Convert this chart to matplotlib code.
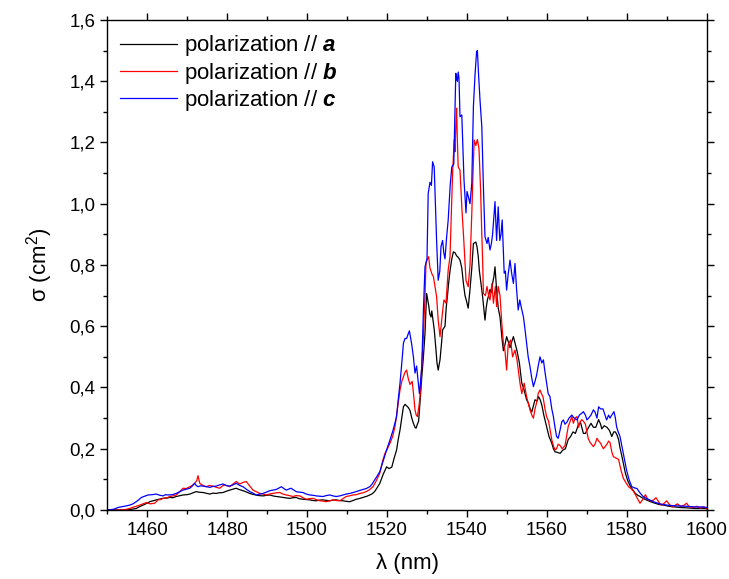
import matplotlib
matplotlib.use('Agg')
import matplotlib.pyplot as plt
from matplotlib.ticker import MultipleLocator, FuncFormatter

plt.rcParams['font.family'] = ['Liberation Sans', 'DejaVu Sans']
plt.rcParams['mathtext.fontset'] = 'custom'
plt.rcParams['mathtext.rm'] = 'Liberation Sans'
plt.rcParams['mathtext.bf'] = 'Liberation Sans:bold:italic'

# polarization // a  (black)
wl_a = [1450, 1452, 1454, 1456, 1457.3, 1458, 1459, 1460, 1460.7, 1461.5, 1462.3, 1463, 1464, 1465,
        1465.7, 1466.5, 1467.3, 1468, 1469, 1470, 1470.7, 1471.5, 1472.3, 1473, 1474, 1475, 1475.7,
        1476.5, 1477.3, 1478, 1479, 1480, 1480.7, 1481.5, 1482.3, 1483, 1484, 1485, 1485.7, 1486.5,
        1487.3, 1488, 1489, 1490, 1490.7, 1491.5, 1492.3, 1493, 1494, 1495, 1495.7, 1496.5, 1497.3,
        1498, 1499, 1500, 1500.7, 1501.5, 1502.3, 1503, 1504, 1505, 1505.7, 1506.5, 1507.3, 1508,
        1509, 1510, 1510.7, 1511.5, 1512.3, 1513, 1514, 1515, 1515.7, 1516.3, 1516.9, 1517.5, 1518.2,
        1519, 1519.9, 1520.5, 1521.2, 1521.8, 1522.4, 1522.8, 1523.25, 1523.7, 1524.1, 1524.5, 1524.9,
        1525.3, 1525.75, 1526.2, 1526.6, 1527.0, 1527.25, 1527.6, 1527.9, 1528.3, 1528.7, 1529.1,
        1529.5, 1529.9, 1530.4, 1530.7, 1531, 1531.2, 1531.5, 1531.8, 1532.25, 1532.5, 1532.8,
        1533.25, 1533.6, 1533.9, 1534.5, 1534.8, 1535.1, 1535.4, 1535.75, 1536.2, 1536.6, 1537,
        1537.4, 1537.8, 1538.25, 1538.7, 1539.1, 1539.5, 1539.8, 1540.3, 1540.75, 1541.2, 1541.6,
        1542.2, 1542.5, 1542.8, 1543.1, 1543.4, 1543.9, 1544.2, 1544.5, 1544.8, 1545.1, 1545.4,
        1545.75, 1546.1, 1546.4, 1546.7, 1547, 1547.4, 1547.8, 1548.25, 1548.7, 1549.1, 1549.5,
        1549.9, 1550.3, 1550.75, 1551.2, 1551.6, 1552, 1552.5, 1553.1, 1553.7, 1554.1, 1554.5,
        1554.9, 1555.3, 1555.8, 1556.2, 1556.6, 1557, 1557.5, 1557.9, 1558.3, 1558.75, 1559.2,
        1559.9, 1560.5, 1561.2, 1561.6, 1562, 1562.6, 1563.3, 1563.9, 1564.6, 1565.3, 1565.9,
        1566.5, 1567.1, 1567.9, 1568.4, 1569.1, 1569.6, 1570.4, 1571, 1571.6, 1572.2, 1572.9,
        1573.4, 1573.7, 1574.3, 1575, 1575.6, 1576.2, 1576.7, 1577.1, 1577.5, 1577.9, 1578.3,
        1578.75, 1579.2, 1579.6, 1580.2, 1580.9, 1581.5, 1582.1, 1582.7, 1583.3, 1584, 1585,
        1585.9, 1587, 1588, 1589.2, 1590.5, 1592, 1593.3, 1595, 1597, 1599, 1600]
sig_a = [0.0, 0.0, 0.0, 0.002, 0.005, 0.01, 0.016, 0.022, 0.027, 0.03, 0.033, 0.035, 0.038, 0.039,
         0.041, 0.04, 0.044, 0.046, 0.049, 0.05, 0.052, 0.056, 0.06, 0.058, 0.057, 0.054, 0.052,
         0.055, 0.054, 0.056, 0.057, 0.062, 0.065, 0.068, 0.071, 0.067, 0.063, 0.058, 0.054, 0.051,
         0.049, 0.047, 0.046, 0.048, 0.049, 0.046, 0.044, 0.043, 0.041, 0.039, 0.038, 0.04, 0.041,
         0.037, 0.035, 0.034, 0.033, 0.031, 0.03, 0.032, 0.033, 0.031, 0.03, 0.032, 0.033, 0.031,
         0.03, 0.028, 0.027, 0.031, 0.035, 0.037, 0.041, 0.045, 0.049, 0.053, 0.06, 0.072, 0.087,
         0.115, 0.141, 0.135, 0.14, 0.17, 0.196, 0.23, 0.261, 0.3, 0.337, 0.345, 0.34,
         0.335, 0.325, 0.3, 0.283, 0.27, 0.267, 0.28, 0.29, 0.36, 0.435, 0.5,
         0.577, 0.707, 0.67, 0.64, 0.63, 0.65, 0.62, 0.59, 0.522, 0.48, 0.457,
         0.49, 0.54, 0.588, 0.6, 0.66, 0.697, 0.74, 0.78, 0.82, 0.843, 0.84,
         0.83, 0.825, 0.816, 0.79, 0.74, 0.7, 0.686, 0.659, 0.72, 0.79, 0.87,
         0.875, 0.86, 0.83, 0.78, 0.75, 0.697, 0.66, 0.62, 0.66, 0.686, 0.7,
         0.72, 0.71, 0.74, 0.76, 0.794, 0.72, 0.66, 0.63, 0.566, 0.52, 0.54,
         0.566, 0.55, 0.53, 0.55, 0.566, 0.545, 0.52, 0.48, 0.414, 0.4, 0.38,
         0.36, 0.35, 0.33, 0.32, 0.34, 0.36, 0.355, 0.37, 0.36, 0.34, 0.31,
         0.272, 0.24, 0.218, 0.2, 0.19, 0.188, 0.185, 0.195, 0.2, 0.23, 0.24,
         0.255, 0.25, 0.28, 0.285, 0.25, 0.25, 0.27, 0.283, 0.27, 0.27, 0.295,
         0.28, 0.265, 0.275, 0.27, 0.26, 0.24, 0.255, 0.255, 0.245, 0.23, 0.2,
         0.174, 0.145, 0.12, 0.095, 0.076, 0.065, 0.054, 0.048, 0.044, 0.038, 0.032,
         0.027, 0.022, 0.018, 0.016, 0.012, 0.01, 0.008, 0.007, 0.005, 0.005, 0.004]

# polarization // b  (red)
wl_b = [1450, 1452, 1453.5, 1454.8, 1455.7, 1456.5, 1457.3, 1458.2, 1459, 1459.8, 1460.8, 1461.9,
        1462.75, 1463.4, 1464, 1465, 1465.7, 1466.5, 1467.3, 1468.2, 1469, 1469.8, 1470.7, 1471.3,
        1471.9, 1472.4, 1472.75, 1473.2, 1474, 1474.8, 1475.6, 1476.5, 1477.3, 1478.2, 1478.8,
        1479.4, 1480, 1480.7, 1481.5, 1482.3, 1482.8, 1483.2, 1484, 1484.8, 1485.6, 1486.5, 1487.3,
        1488.2, 1489, 1489.8, 1490.6, 1491.5, 1492.3, 1493.2, 1494, 1494.8, 1495.6, 1496.5, 1497.3,
        1498.2, 1499, 1499.8, 1500.6, 1501.5, 1502.3, 1503.2, 1504, 1504.8, 1505.6, 1506.5, 1507.3,
        1508.2, 1509, 1509.8, 1510.6, 1511.5, 1512.3, 1513.2, 1514, 1514.8, 1515.6, 1516.5, 1517.3,
        1518.2, 1518.9, 1519.5, 1520.1, 1520.75, 1521.4, 1522, 1522.6, 1523.25, 1523.7, 1524.1,
        1524.5, 1524.9, 1525.3, 1525.75, 1526.3, 1526.7, 1527, 1527.3, 1527.6, 1528, 1528.25,
        1528.7, 1529.1, 1529.5, 1529.75, 1530.1, 1530.4, 1530.75, 1531.25, 1531.6, 1532, 1532.4,
        1532.8, 1533.25, 1533.6, 1534, 1534.25, 1534.75, 1535.3, 1535.75, 1536.1, 1536.4, 1536.8,
        1537, 1537.2, 1537.4, 1537.6, 1537.8, 1538.25, 1538.7, 1539.2, 1539.75, 1540.3, 1540.75,
        1541.2, 1541.5, 1541.8, 1542.2, 1542.6, 1543, 1543.4, 1543.7, 1543.9, 1544.1, 1544.6, 1545,
        1545.4, 1545.75, 1546.25, 1546.6, 1547.1, 1547.4, 1547.8, 1548.25, 1548.7, 1549.1, 1549.5,
        1549.9, 1550.3, 1550.9, 1551.4, 1552, 1552.5, 1552.9, 1553.25, 1553.7, 1554.3, 1554.9,
        1555.3, 1555.75, 1556.2, 1556.6, 1557, 1557.4, 1557.8, 1558.25, 1558.6, 1559, 1559.5,
        1559.9, 1560.4, 1560.8, 1561.2, 1561.6, 1562, 1562.4, 1562.8, 1563.3, 1563.8, 1564.5,
        1564.9, 1565.3, 1565.8, 1566.2, 1566.6, 1567, 1567.5, 1567.9, 1568.3, 1568.7, 1569.1,
        1569.6, 1570.3, 1570.8, 1571.6, 1572, 1572.5, 1572.9, 1573.3, 1573.7, 1574.1, 1574.6, 1575,
        1575.4, 1575.75, 1576.2, 1576.6, 1577.2, 1577.9, 1578.5, 1579.1, 1579.7, 1580.4, 1581,
        1581.7, 1582.5, 1583.25, 1584, 1584.6, 1585.2, 1585.9, 1586.6, 1587.25, 1588, 1588.6,
        1589.3, 1589.9, 1590.6, 1591.3, 1592, 1592.6, 1593.4, 1594.2, 1594.9, 1595.6, 1596.5,
        1597.5, 1598.3, 1599.2, 1600]
sig_b = [0.0, 0.0, 0.0, 0.002, 0.005, 0.009, 0.012, 0.016, 0.02, 0.024, 0.02, 0.022,
         0.033, 0.034, 0.038, 0.04, 0.044, 0.046, 0.049, 0.06, 0.071, 0.07, 0.076, 0.08,
         0.087, 0.095, 0.112, 0.087, 0.08, 0.076, 0.08, 0.078, 0.074, 0.071, 0.078,
         0.082, 0.079, 0.076, 0.085, 0.093, 0.088, 0.085, 0.09, 0.093, 0.08, 0.065, 0.06,
         0.054, 0.052, 0.049, 0.052, 0.054, 0.056, 0.057, 0.052, 0.049, 0.047, 0.044, 0.047,
         0.046, 0.04, 0.035, 0.037, 0.038, 0.034, 0.03, 0.029, 0.027, 0.03, 0.033, 0.031,
         0.03, 0.037, 0.044, 0.046, 0.049, 0.05, 0.054, 0.056, 0.06, 0.066, 0.076, 0.095,
         0.12, 0.16, 0.185, 0.2, 0.218, 0.24, 0.272, 0.33, 0.392, 0.42, 0.435,
         0.45, 0.457, 0.43, 0.41, 0.42, 0.37, 0.327, 0.31, 0.305, 0.34, 0.37,
         0.47, 0.566, 0.7, 0.806, 0.82, 0.827, 0.79, 0.77, 0.762, 0.73, 0.697,
         0.62, 0.566, 0.61, 0.66, 0.686, 0.675, 0.784, 0.827, 0.98, 1.1, 1.208,
         1.17, 1.25, 1.312, 1.2, 1.12, 1.11, 0.99, 0.88, 0.75, 0.729, 0.8,
         0.969, 1.1, 1.208, 1.19, 1.21, 1.18, 1.045, 0.9, 0.82, 0.707, 0.7, 0.73,
         0.7, 0.686, 0.74, 0.675, 0.73, 0.664, 0.73, 0.7, 0.61, 0.544, 0.52,
         0.457, 0.54, 0.555, 0.5, 0.522, 0.49, 0.45, 0.414, 0.38, 0.414, 0.37,
         0.35, 0.327, 0.31, 0.3, 0.33, 0.35, 0.38, 0.392, 0.38, 0.37, 0.33,
         0.305, 0.29, 0.26, 0.229, 0.21, 0.196, 0.2, 0.215, 0.21, 0.2, 0.21,
         0.24, 0.272, 0.29, 0.305, 0.283, 0.3, 0.305, 0.27, 0.288, 0.295, 0.29,
         0.28, 0.234, 0.22, 0.207, 0.215, 0.234, 0.225, 0.22, 0.21, 0.2, 0.208, 0.215,
         0.225, 0.22, 0.19, 0.174, 0.17, 0.165, 0.13, 0.103, 0.09, 0.076, 0.07,
         0.06, 0.04, 0.022, 0.035, 0.05, 0.035, 0.03, 0.032, 0.04, 0.025, 0.015,
         0.022, 0.03, 0.018, 0.01, 0.015, 0.02, 0.012, 0.015, 0.022, 0.01, 0.008,
         0.012, 0.006, 0.01, 0.004]

# polarization // c  (blue)
wl_c = [1450, 1451.5, 1453, 1454.3, 1455.7, 1456.5, 1457.3, 1458, 1458.6, 1459.4, 1460.25, 1461.3,
        1462.3, 1463.2, 1464, 1464.6, 1465.25, 1466.3, 1467.3, 1468.2, 1469, 1469.8, 1470.7, 1471.3,
        1471.9, 1472.3, 1472.75, 1473.4, 1474, 1474.8, 1475.7, 1476.5, 1477.3, 1478.2, 1479,
        1479.8, 1480.7, 1481.5, 1482.3, 1483.2, 1484, 1484.8, 1485.7, 1486.5, 1487.3, 1488.2, 1489,
        1489.8, 1490.7, 1491.5, 1492.3, 1493, 1493.6, 1494.2, 1494.8, 1495.4, 1496, 1496.7, 1497.3,
        1498.2, 1499, 1499.8, 1500.7, 1501.5, 1502.3, 1503.2, 1504, 1504.8, 1505.7, 1506.5, 1507.3,
        1508.2, 1509, 1509.8, 1510.7, 1511.5, 1512.3, 1513.2, 1514, 1514.8, 1515.7, 1516.3, 1516.9,
        1517.5, 1518.2, 1518.8, 1519.4, 1520, 1520.75, 1521.5, 1522.4, 1522.8, 1523.25, 1523.7,
        1524.1, 1524.5, 1524.9, 1525.3, 1525.6, 1526.2, 1526.6, 1527, 1527.4, 1527.8, 1528.1,
        1528.4, 1528.7, 1529.1, 1529.5, 1530, 1530.3, 1530.75, 1531.1, 1531.4, 1531.8, 1532.1,
        1532.4, 1532.8, 1533.2, 1533.5, 1533.9, 1534.2, 1534.5, 1534.9, 1535.3, 1535.8, 1536.2,
        1536.7, 1537, 1537.2, 1537.4, 1537.6, 1537.8, 1538, 1538.25, 1538.7, 1539.25, 1539.75,
        1540, 1540.4, 1540.75, 1541.2, 1541.6, 1542, 1542.4, 1542.6, 1542.9, 1543.25, 1543.7,
        1544.1, 1544.5, 1545, 1545.3, 1545.75, 1546.1, 1546.4, 1547, 1547.4, 1547.8, 1548.2,
        1548.5, 1548.8, 1549.3, 1549.6, 1549.9, 1550.3, 1550.75, 1551.2, 1551.6, 1552, 1552.4,
        1552.8, 1553.2, 1553.6, 1554.1, 1554.5, 1554.9, 1555.3, 1555.75, 1556.2, 1556.6, 1557,
        1557.4, 1557.8, 1558.25, 1558.7, 1559.1, 1559.5, 1559.9, 1560.3, 1560.75, 1561.2, 1561.6,
        1562, 1562.4, 1562.8, 1563.25, 1563.7, 1564.1, 1564.5, 1565, 1565.5, 1566.2, 1566.8,
        1567.5, 1568.1, 1568.7, 1569.1, 1569.6, 1570, 1570.4, 1571, 1571.6, 1572, 1572.5, 1572.9,
        1573.4, 1574, 1574.5, 1574.9, 1575.4, 1575.75, 1576.2, 1576.75, 1577.1, 1577.4, 1577.8,
        1578.25, 1578.7, 1579.1, 1579.5, 1579.9, 1580.5, 1581.2, 1581.9, 1582.5, 1583.3, 1584.1,
        1585.3, 1586.6, 1588.2, 1589.9, 1591.5, 1593.3, 1595, 1597, 1599, 1600]
sig_c = [0.0, 0.002, 0.009, 0.012, 0.016, 0.02, 0.027, 0.034, 0.041, 0.045, 0.049, 0.05,
         0.052, 0.048, 0.046, 0.05, 0.049, 0.05, 0.054, 0.06, 0.065, 0.068, 0.071, 0.078,
         0.087, 0.08, 0.076, 0.079, 0.078, 0.076, 0.074, 0.077, 0.078, 0.082, 0.085,
         0.08, 0.078, 0.082, 0.087, 0.08, 0.076, 0.068, 0.06, 0.055, 0.049, 0.052, 0.054,
         0.058, 0.063, 0.065, 0.067, 0.072, 0.076, 0.07, 0.065, 0.068, 0.071, 0.065, 0.06,
         0.058, 0.057, 0.052, 0.049, 0.048, 0.046, 0.045, 0.044, 0.047, 0.049, 0.046, 0.044,
         0.046, 0.049, 0.052, 0.054, 0.057, 0.06, 0.064, 0.067, 0.07, 0.076, 0.085, 0.098,
         0.11, 0.125, 0.15, 0.175, 0.2, 0.229, 0.26, 0.305, 0.36, 0.414, 0.48,
         0.544, 0.56, 0.56, 0.575, 0.585, 0.539, 0.5, 0.447, 0.47, 0.42, 0.38,
         0.42, 0.47, 0.65, 0.794, 0.82, 1.034, 1.07, 1.06, 1.137, 1.12, 1.0,
         0.88, 0.75, 0.78, 0.86, 0.88, 0.84, 0.82, 0.89, 0.947, 1.06, 1.12,
         1.13, 1.3, 1.426, 1.41, 1.40, 1.43, 1.41, 1.284, 1.29, 1.078, 0.97,
         1.04, 1.02, 1.0, 1.067, 1.317, 1.42, 1.497, 1.50, 1.42, 1.339, 1.252,
         1.056, 0.892, 0.87, 0.89, 0.849, 0.87, 0.9, 1.007, 0.88, 0.99, 0.88,
         0.9, 0.947, 0.773, 0.78, 0.718, 0.77, 0.816, 0.77, 0.74, 0.805, 0.72,
         0.653, 0.686, 0.66, 0.631, 0.59, 0.544, 0.5, 0.468, 0.43, 0.403, 0.42,
         0.44, 0.47, 0.5, 0.48, 0.49, 0.45, 0.414, 0.38, 0.37, 0.33, 0.305,
         0.27, 0.24, 0.234, 0.26, 0.288, 0.294, 0.28, 0.287, 0.3, 0.31, 0.3,
         0.294, 0.31, 0.316, 0.321, 0.31, 0.294, 0.3, 0.31, 0.327, 0.32, 0.30, 0.337,
         0.33, 0.33, 0.31, 0.294, 0.31, 0.3, 0.31, 0.321, 0.3, 0.272, 0.255,
         0.24, 0.21, 0.185, 0.155, 0.13, 0.1, 0.076, 0.072, 0.07, 0.055, 0.043,
         0.035, 0.027, 0.02, 0.016, 0.014, 0.013, 0.012, 0.01, 0.01, 0.008]

labels = [r'polarization // $\mathbf{a}$', r'polarization // $\mathbf{b}$', r'polarization // $\mathbf{c}$']
colors = ['black', 'red', 'blue']

fig = plt.figure(figsize=(7.29, 5.79), dpi=100)
ax = fig.add_axes([0.1468, 0.1192, 0.823, 0.8463])

ax.plot(wl_a, sig_a, color=colors[0], lw=0.9, label=labels[0])
ax.plot(wl_b, sig_b, color=colors[1], lw=0.9, label=labels[1])
ax.plot(wl_c, sig_c, color=colors[2], lw=0.9, label=labels[2])

ax.set_xlim(1450, 1600)
ax.set_ylim(0, 1.6)
ax.xaxis.set_major_locator(MultipleLocator(20))
ax.xaxis.set_minor_locator(MultipleLocator(10))
ax.yaxis.set_major_locator(MultipleLocator(0.2))
ax.yaxis.set_minor_locator(MultipleLocator(0.1))
ax.yaxis.set_major_formatter(FuncFormatter(lambda v, p: f'{v:.1f}'.replace('.', ',')))

ax.tick_params(which='both', direction='out', top=True, right=True, labelsize=13.5, width=1.0)
ax.tick_params(which='major', length=5)
ax.tick_params(which='minor', length=3)
for s in ax.spines.values():
    s.set_linewidth(1.0)

ax.set_xlabel('λ (nm)', fontsize=16, labelpad=10)
ax.set_ylabel('σ (cm$^2$)', fontsize=16, labelpad=10)

ax.legend(loc='upper left', frameon=False, fontsize=16, handlelength=2.55, handletextpad=0.3,
          labelspacing=0.1, borderaxespad=0.2, bbox_to_anchor=(0.0, 1.0))

fig.savefig('out.png', dpi=100)
